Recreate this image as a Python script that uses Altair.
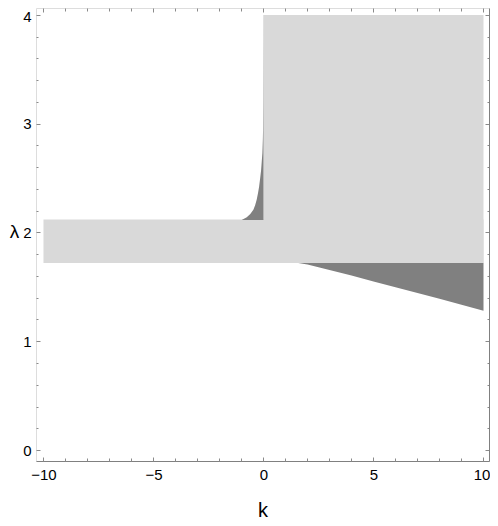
import altair as alt
import pandas as pd

# light gray regions (rectangles in k, lambda)
band_k_lo = [-10, 0]
band_k_hi = [10, 10]
band_lam_lo = [1.72, 1.72]
band_lam_hi = [2.12, 4.0]

# dark cusp region left of k=0 (boundary curve k(lambda))
cusp_lam = [2.115, 2.14, 2.17, 2.21, 2.25, 2.30, 2.36, 2.42, 2.50, 2.57, 2.65, 2.73, 2.85, 2.94, 3.2, 3.5, 3.8, 4.0]
cusp_k = [-0.99, -0.76, -0.60, -0.46, -0.38, -0.31, -0.25, -0.20, -0.15, -0.11, -0.08, -0.05, -0.03, -0.02, -0.012, -0.008, -0.005, -0.004]

# dark region below the band on the right (lower boundary lambda(k))
low_k = [1.58, 2.0, 2.5, 3.0, 4.0, 5.0, 6.0, 7.0, 8.0, 9.0, 10.0]
low_lam = [1.72, 1.705, 1.68, 1.655, 1.605, 1.55, 1.497, 1.443, 1.39, 1.335, 1.28]
low_top = 1.72

x_major = [-10, -5, 0, 5, 10]
x_minor = [-9, -8, -7, -6, -4, -3, -2, -1, 1, 2, 3, 4, 6, 7, 8, 9]
y_major = [0, 1, 2, 3, 4]
y_minor = [0.2, 0.4, 0.6, 0.8, 1.2, 1.4, 1.6, 1.8, 2.2, 2.4, 2.6, 2.8, 3.2, 3.4, 3.6, 3.8]

X_DOM = [-10.34, 10.25]
Y_DOM = [-0.101, 4.064]

LIGHT = "#d9d9d9"
DARK = "#808080"
AX = "#8a8a8a"
FONT = "Liberation Sans"

rects = pd.DataFrame({"k1": band_k_lo, "k2": band_k_hi, "l1": band_lam_lo, "l2": band_lam_hi})
cusp = pd.DataFrame({"k": cusp_k, "lam": cusp_lam})
low = pd.DataFrame({"k": low_k, "lam": low_lam})

xs = alt.Scale(domain=X_DOM, nice=False, zero=False)
ys = alt.Scale(domain=Y_DOM, nice=False, zero=False)


def tick_axis(orient, values, size):
    return alt.Axis(orient=orient, values=values, offset=-size, tickSize=size,
                    tickColor=AX, tickWidth=1, labels=False, domain=False,
                    grid=False, title="")


# layer 1: light regions + labelled axes
base = alt.Chart(rects).mark_rect(color=LIGHT, strokeWidth=0).encode(
    x=alt.X("k1:Q", scale=xs, axis=alt.Axis(
        orient="bottom", values=x_major, ticks=False, domain=True,
        domainColor=DARK, domainWidth=1, grid=False,
        labelFont=FONT, labelFontSize=15, labelColor="black", labelPadding=6,
        labelOffset={"condition": {"test": "datum.value == 10", "value": -2}, "value": 0},
        title="k", titleFont=FONT, titleFontSize=20, titleFontWeight="normal",
        titleColor="black", titleBaseline="alphabetic", titleY=55)),
    x2="k2:Q",
    y=alt.Y("l1:Q", scale=ys, axis=alt.Axis(
        orient="left", values=y_major, ticks=False, domain=False, grid=False,
        labelFont=FONT, labelFontSize=15, labelColor="black", labelPadding=5,
        labelOffset={"condition": {"test": "datum.value == 4", "value": 1.5}, "value": 0},
        title="λ", titleFont=FONT, titleFontSize=19, titleFontWeight="normal",
        titleColor="black", titleAngle=0, titleAlign="center",
        titleBaseline="middle", titleX=-22, titleY=223)),
    y2="l2:Q",
)

# layer 2: cusp region + major inward ticks bottom/left
cusp_layer = alt.Chart(cusp).mark_area(color=DARK, orient="horizontal").encode(
    x=alt.X("k:Q", scale=xs, axis=tick_axis("bottom", x_major, 4)),
    x2=alt.datum(0),
    y=alt.Y("lam:Q", scale=ys, axis=tick_axis("left", y_major, 4)),
)

# layer 3: low region + minor inward ticks bottom/left
low_layer = alt.Chart(low).mark_area(color=DARK, orient="vertical").encode(
    x=alt.X("k:Q", scale=xs, axis=tick_axis("bottom", x_minor, 3)),
    y=alt.Y("lam:Q", scale=ys, axis=tick_axis("left", y_minor, 2)),
    y2=alt.datum(low_top),
)

# invisible layers carrying the top/right axes
top_major = alt.Chart(rects).mark_rect(opacity=0).encode(
    x=alt.X("k1:Q", scale=xs, axis=tick_axis("top", x_major, 4)), x2="k2:Q",
    y=alt.Y("l1:Q", scale=ys, axis=tick_axis("right", y_major, 4)), y2="l2:Q",
)
top_minor = alt.Chart(rects).mark_rect(opacity=0).encode(
    x=alt.X("k1:Q", scale=xs, axis=tick_axis("top", x_minor, 3)), x2="k2:Q",
    y=alt.Y("l1:Q", scale=ys, axis=tick_axis("right", y_minor, 2)), y2="l2:Q",
)
right_dom = alt.Chart(rects).mark_rect(opacity=0).encode(
    x=alt.X("k1:Q", scale=xs, axis=None), x2="k2:Q",
    y=alt.Y("l1:Q", scale=ys, axis=alt.Axis(
        orient="right", ticks=False, labels=False, domain=True,
        domainColor=DARK, domainWidth=1, grid=False, title="")), y2="l2:Q",
)

chart = alt.layer(base, cusp_layer, low_layer, top_major, top_minor, right_dom).resolve_axis(
    x="independent", y="independent"
).properties(
    width=453, height=453,
    autosize=alt.AutoSizeParams(type="none"),
    padding={"left": 28, "top": 0, "right": 1, "bottom": 62},
).configure_view(stroke=None).configure(background="white")

chart.save("out.html", embed_options={"renderer": "svg", "actions": False})
